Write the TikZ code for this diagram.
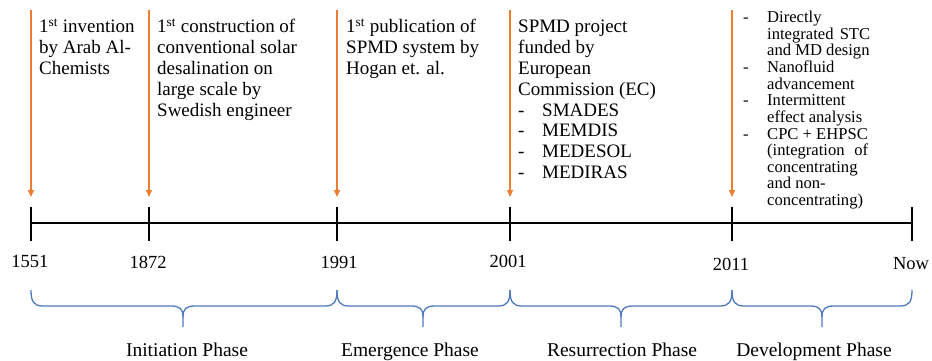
\documentclass[tikz,border=0pt]{standalone}
\usepackage{fontspec}
\setmainfont{Liberation Serif}
\usetikzlibrary{arrows.meta}
\definecolor{evorange}{HTML}{ED7D31}
\definecolor{phblue}{HTML}{5079BD}
\begin{document}
\begin{tikzpicture}[x=1pt,y=-1pt,
  evarrow/.style={draw=evorange, line width=1.2pt, -{Triangle[width=6pt,length=7pt]}},
  axisline/.style={line width=1.3pt},
  tickline/.style={line width=1.3pt},
  bracepath/.style={draw=phblue, line width=1.3pt, line join=round},
  blocktext/.style={anchor=base west, inner sep=0, font={\fontsize{19}{20.8}\selectfont}},
  smalltext/.style={anchor=base west, inner sep=0, font={\fontsize{16.6}{16.6}\selectfont}},
  yearlbl/.style={anchor=base, inner sep=0, font={\fontsize{18.5}{20}\selectfont}},
  phaselbl/.style={anchor=base, inner sep=0, font={\fontsize{19.5}{21}\selectfont}}
]
\useasboundingbox (0,0) rectangle (932,361);

% timeline
\foreach \n/\x in {1/31, 2/149, 3/337, 4/510, 5/732, 6/912}{
  \coordinate (k\n) at (\x,223);
  \coordinate (kt\n) at (\x,207);
  \coordinate (kb\n) at (\x,241);
  \draw[tickline] (kt\n) -- (kb\n);
}
\draw[axisline] (k1) -- (k6);

% event arrows
\foreach \n/\x in {1/31, 2/149, 3/337, 4/510, 5/732}{
  \coordinate (a\n) at (\x,10);
  \coordinate (b\n) at (\x,197);
  \draw[evarrow] (a\n) -- (b\n);
}

% braces
\foreach \l/\r/\m in {31/337/183, 337/510/423, 510/732/621, 732/912/822}{
  \draw[bracepath] (\l,290) .. controls (\l,302) and (\l+3,306) .. (\l+12,306)
     -- (\m-12,306) .. controls (\m-3,306) and (\m,309) .. (\m,317) -- (\m,327);
  \draw[bracepath] (\m,317) .. controls (\m,309) and (\m+3,306) .. (\m+12,306)
     -- (\r-12,306) .. controls (\r-3,306) and (\r,302) .. (\r,290);
}

% event texts
\node[blocktext] (ev1) at (39,33) {\begin{tabular}[t]{@{}l@{}}1\textsuperscript{st} invention\\ by Arab Al-\\ Chemists\end{tabular}};
\node[blocktext] (ev2) at (157,33) {\begin{tabular}[t]{@{}l@{}}1\textsuperscript{st} construction of\\ conventional solar\\ desalination on\\ large scale by\\ Swedish engineer\end{tabular}};
\node[blocktext] (ev3) at (346,33) {\begin{tabular}[t]{@{}l@{}}1\textsuperscript{st} publication of\\ SPMD system by\\ Hogan et. al.\end{tabular}};
\node[blocktext] (ev4) at (518,33) {\begin{tabular}[t]{@{}p{24pt}@{}l@{}}\multicolumn{2}{@{}l@{}}{SPMD project}\\ \multicolumn{2}{@{}l@{}}{funded by}\\ \multicolumn{2}{@{}l@{}}{European}\\ \multicolumn{2}{@{}l@{}}{Commission (EC)}\\ - & SMADES\\ - & MEMDIS\\ - & MEDESOL\\ - & MEDIRAS\end{tabular}};
\node[smalltext] (ev5) at (743,22.7) {\begin{tabular}[t]{@{}p{24pt}@{}l@{}}- & Directly\\ & \makebox[103pt][s]{integrated STC}\\ & and MD design\\ - & Nanofluid\\ & advancement\\ - & Intermittent\\ & effect analysis\\ - & CPC + EHPSC\\ & \makebox[101pt][s]{(integration of}\\ & concentrating\\ & and non-\\ & concentrating)\end{tabular}};

% years
\node[yearlbl] (y1551) at (30,267) {1551};
\node[yearlbl] (y1872) at (148,268) {1872};
\node[yearlbl] (y1991) at (339,268) {1991};
\node[yearlbl] (y2001) at (508,267) {2001};
\node[yearlbl] (y2011) at (731,270) {2011};
\node[yearlbl] (ynow) at (911,269) {Now};

% phases
\node[phaselbl] (p1) at (187,356) {Initiation Phase};
\node[phaselbl] (p2) at (410,356) {Emergence Phase};
\node[phaselbl] (p3) at (622,356) {Resurrection Phase};
\node[phaselbl] (p4) at (814,356) {Development Phase};
\end{tikzpicture}
\end{document}
